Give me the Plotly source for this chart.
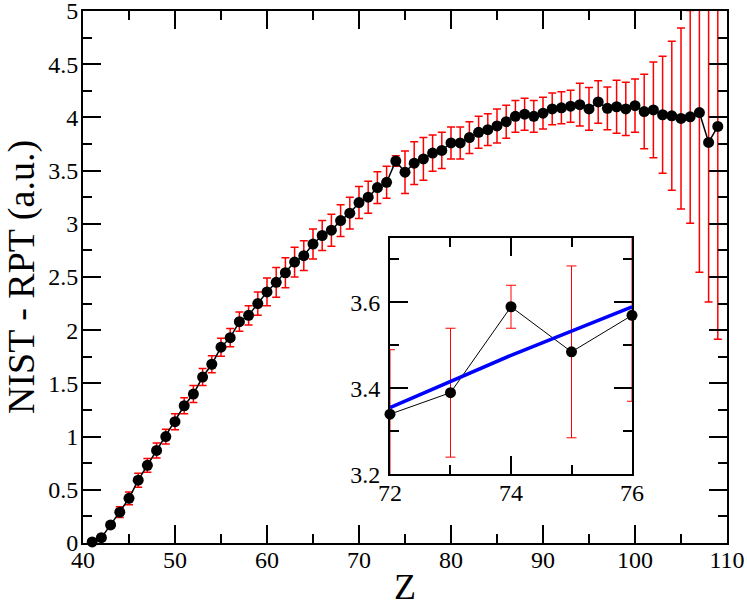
import plotly.graph_objects as go

# atomic number and NIST - RPT difference (a.u.) with uncertainties
z = list(range(41, 110))
diff = [0.01, 0.05, 0.17, 0.29, 0.42, 0.59, 0.73, 0.87, 1.00, 1.14,
        1.29, 1.40, 1.56, 1.68, 1.84, 1.93, 2.08, 2.14, 2.25, 2.36,
        2.45, 2.54, 2.64, 2.70, 2.81, 2.89, 2.94, 3.03, 3.10, 3.20,
        3.25, 3.34, 3.39, 3.59, 3.485, 3.57, 3.61, 3.665, 3.69, 3.76,
        3.76, 3.81, 3.86, 3.885, 3.92, 3.96, 4.01, 4.03, 4.01, 4.04,
        4.08, 4.09, 4.105, 4.12, 4.08, 4.145, 4.085, 4.10, 4.08, 4.11,
        4.055, 4.07, 4.025, 4.015, 3.99, 4.005, 4.045, 3.765, 3.915]
err = [0.03, 0.03, 0.03, 0.05, 0.06, 0.065, 0.065, 0.07, 0.07, 0.075,
       0.075, 0.08, 0.08, 0.08, 0.085, 0.085, 0.09, 0.09, 0.11, 0.13,
       0.14, 0.14, 0.14, 0.14, 0.14, 0.14, 0.15, 0.15, 0.15, 0.15,
       0.15, 0.15, 0.15, 0.05, 0.2, 0.2, 0.2, 0.17, 0.17, 0.15,
       0.15, 0.15, 0.15, 0.15, 0.16, 0.155, 0.15, 0.15, 0.15, 0.15,
       0.15, 0.15, 0.15, 0.2, 0.2, 0.2, 0.2, 0.25, 0.25, 0.25,
       0.35, 0.45, 0.55, 0.7, 0.85, 1.0, 1.5, 1.5, 2.0]

# inset: zoom on Z = 72..76 with a smooth trend line
inset_z = [72, 73, 74, 75, 76]
inset_trend = [3.355, 3.415, 3.477, 3.533, 3.59]

y_ticks = [0, 0.5, 1, 1.5, 2, 2.5, 3, 3.5, 4, 4.5, 5]
y_labels = ["0", "0.5", "1", "1.5", "2", "2.5", "3", "3.5", "4", "4.5", "5"]
inset_yticks = [3.2, 3.4, 3.6]
inset_ylabels = ["3.2", "3.4", "3.6"]

i0 = z.index(inset_z[0])
i1 = z.index(inset_z[-1]) + 1
inset_diff = diff[i0:i1]
inset_err = err[i0:i1]

serif = "Liberation Serif"

fig = go.Figure()

# main curve: line + error bars (clipped), then markers on top
fig.add_trace(go.Scatter(
    x=z, y=diff, mode="lines",
    line=dict(color="black", width=1.5),
    error_y=dict(type="data", array=err, color="red", thickness=1.5, width=4),
    showlegend=False))
fig.add_trace(go.Scatter(
    x=z, y=diff, mode="markers",
    marker=dict(color="black", size=11),
    cliponaxis=False, showlegend=False))

# inset
fig.add_trace(go.Scatter(
    x=inset_z, y=inset_diff, mode="lines",
    line=dict(color="black", width=1),
    error_y=dict(type="data", array=inset_err, color="red", thickness=1, width=5),
    xaxis="x2", yaxis="y2", showlegend=False))
fig.add_trace(go.Scatter(
    x=inset_z, y=inset_diff, mode="markers",
    marker=dict(color="black", size=11),
    cliponaxis=False, xaxis="x2", yaxis="y2", showlegend=False))
fig.add_trace(go.Scatter(
    x=inset_z, y=inset_trend, mode="lines",
    line=dict(color="#0000ff", width=3.5),
    xaxis="x2", yaxis="y2", showlegend=False))

axis_style = dict(
    showline=True, linecolor="black", linewidth=2, mirror="ticks",
    ticks="inside", ticklen=18, tickwidth=2, tickcolor="black",
    showgrid=False, zeroline=False, automargin=False,
    ticklabeloverflow="allow",
    tickfont=dict(family=serif, size=24, color="black"),
)

fig.update_layout(
    width=747, height=607,
    margin=dict(l=83, r=20, t=11, b=64),
    paper_bgcolor="white", plot_bgcolor="white",
    font=dict(family=serif, size=24, color="black"),
    xaxis=dict(
        range=[40, 110], dtick=10, tick0=40, ticklabelstandoff=-6,
        minor=dict(dtick=5, ticklen=9, tickwidth=2, tickcolor="black", ticks="inside"),
        title=dict(text="Z", font=dict(family=serif, size=36, color="black"), standoff=8),
        **axis_style),
    yaxis=dict(
        range=[0, 5], tickvals=y_ticks, ticktext=y_labels, ticklabelstandoff=-2,
        minor=dict(dtick=0.25, ticklen=9, tickwidth=2, tickcolor="black", ticks="inside"),
        title=dict(text="NIST - RPT (a.u.)", font=dict(family=serif, size=38, color="black"),
                   standoff=10),
        **axis_style),
    xaxis2=dict(
        domain=[0.4767, 0.8525], anchor="y2",
        range=[72, 76], dtick=2, tick0=72, ticklabelstandoff=-4,
        minor=dict(dtick=1, ticklen=9, tickwidth=2, tickcolor="black", ticks="inside"),
        **axis_style),
    yaxis2=dict(
        domain=[0.1291, 0.5733], anchor="x2",
        range=[3.2, 3.75], tickvals=inset_yticks, ticktext=inset_ylabels, ticklabelstandoff=3,
        minor=dict(dtick=0.1, tick0=3.2, ticklen=9, tickwidth=2, tickcolor="black", ticks="inside"),
        **axis_style),
)

# the page body has a default 8px margin; drop it so the figure sits at the corner
fig.write_html("out.html", config={"displayModeBar": False},
               post_script="document.body.style.margin='0';")
